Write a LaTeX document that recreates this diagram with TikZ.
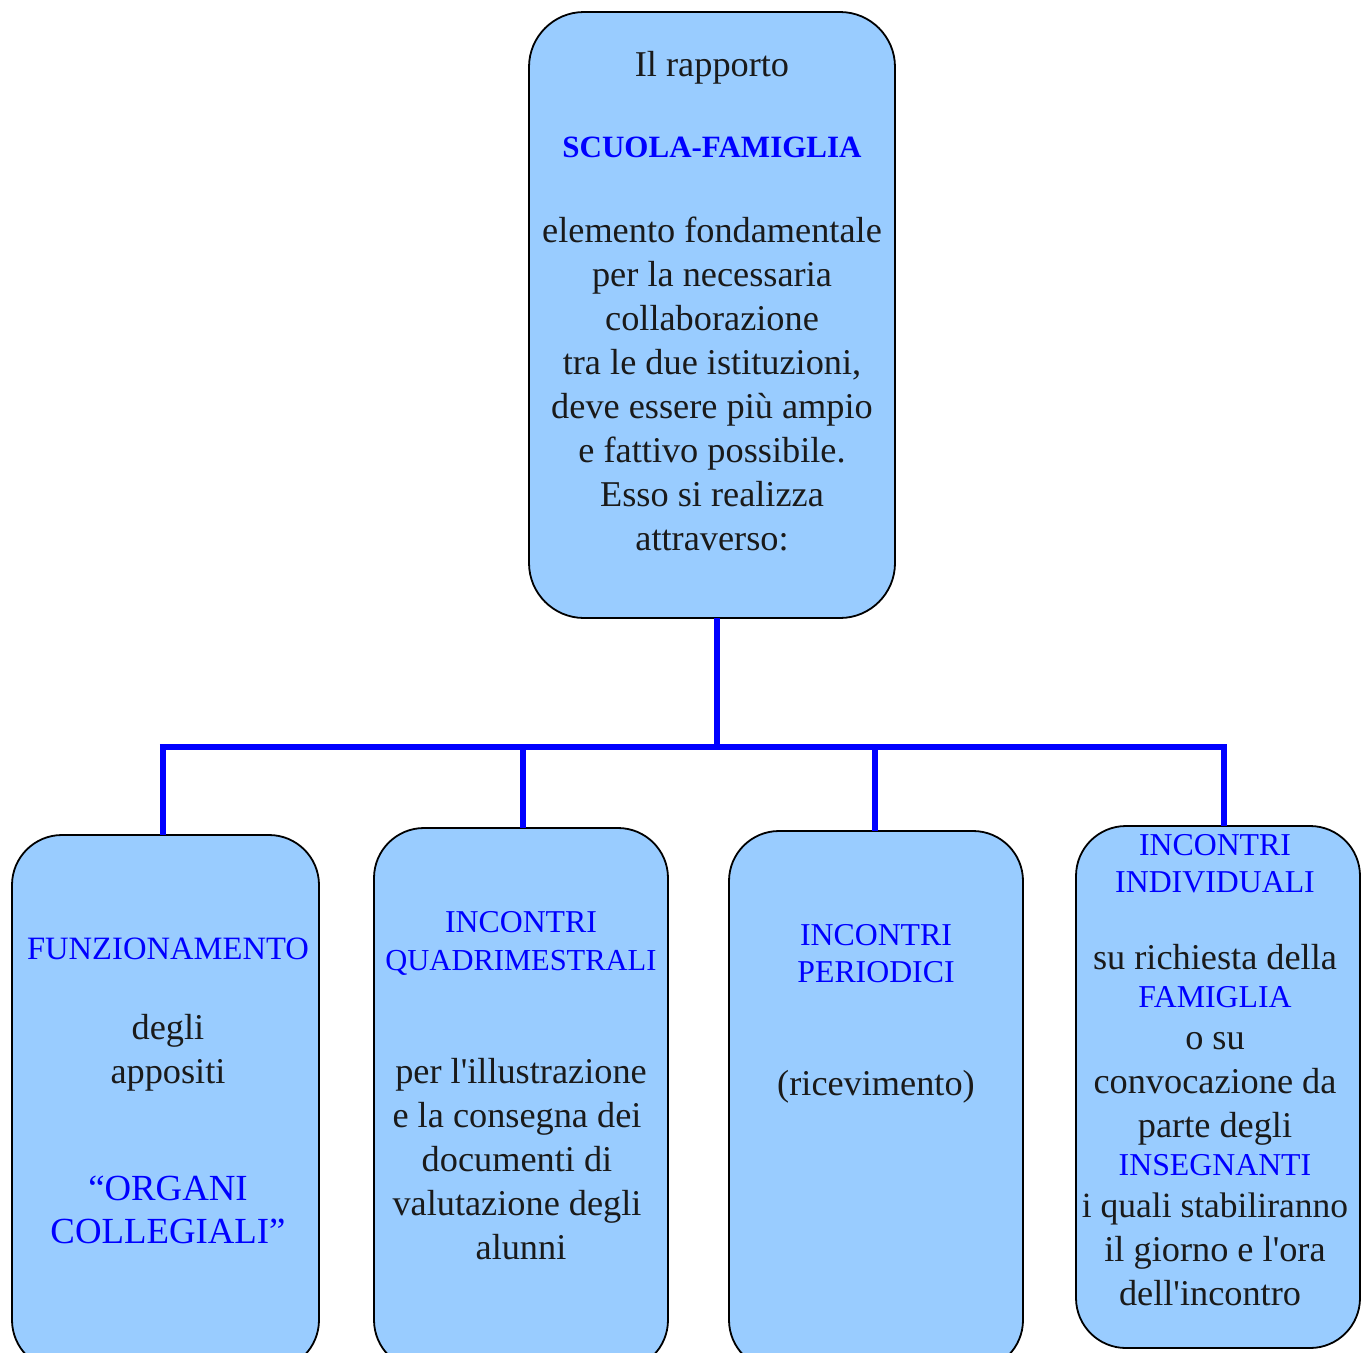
\documentclass[tikz,border=0pt]{standalone}
\usepackage{fontspec}
\setmainfont{Liberation Serif}
\definecolor{boxfill}{HTML}{99CCFF}
\definecolor{linkblue}{HTML}{0000FF}
\definecolor{txtblack}{HTML}{1A1A1A}
\tikzset{
  boxshape/.style={draw=black, line width=1.8pt, fill=boxfill, rounded corners=50pt, inner sep=0pt, outer sep=0pt},
  txt/.style={anchor=base, inner sep=0pt, text=txtblack, font=\fontsize{36.3}{44}\selectfont},
  hd/.style={anchor=base, inner sep=0pt, text=linkblue, font=\fontsize{31.8}{37}\selectfont},
  hdbig/.style={anchor=base, inner sep=0pt, text=linkblue, font=\fontsize{36.8}{44}\selectfont},
  link/.style={draw=linkblue, line width=6.5pt}
}
\begin{document}
\begin{tikzpicture}[x=1pt,y=-1pt]
\useasboundingbox (0,0) rectangle (1362,1352);
\clip (0,0) rectangle (1362,1352);
% boxes
\node[boxshape, rounded corners=55pt, minimum width=366pt, minimum height=606pt] (top) at (712,315) {};
\node[boxshape, minimum width=307pt, minimum height=535pt] (b1) at (165.5,1102.5) {};
\node[boxshape, minimum width=294pt, minimum height=542pt] (b2) at (521,1099) {};
\node[boxshape, minimum width=294pt, minimum height=539pt] (b3) at (876,1100.5) {};
\node[boxshape, minimum width=284pt, minimum height=522pt] (b4) at (1218,1087) {};
% connectors
\coordinate (j0) at (717,747);
\coordinate (j1) at (163,747);
\coordinate (j2) at (523,747);
\coordinate (j3) at (875,747);
\coordinate (j4) at (1224,747);
\draw[link] (j0 |- top.south) -- (j0);
\draw[link] ([xshift=-3.25pt]j1) -- ([xshift=3.25pt]j4);
\draw[link] (j1) -- (j1 |- b1.north);
\draw[link] (j2) -- (j2 |- b2.north);
\draw[link] (j3) -- (j3 |- b3.north);
\draw[link] (j4) -- (j4 |- b4.north);
% top text
\node[txt] (t1) at (712,76) {Il rapporto};
\node[anchor=base, inner sep=0pt, text=linkblue, font=\fontsize{31}{37}\selectfont\bfseries] (t2) at (712,157) {SCUOLA-FAMIGLIA};
\node[txt] (t3) at (712,242) {elemento fondamentale};
\node[txt] (t4) at (712,286) {per la necessaria};
\node[txt] (t5) at (712,330) {collaborazione};
\node[txt] (t6) at (712,374) {tra le due istituzioni,};
\node[txt] (t7) at (712,418) {deve essere più ampio};
\node[txt] (t8) at (712,462) {e fattivo possibile.};
\node[txt] (t9) at (712,506) {Esso si realizza};
\node[txt] (t10) at (712,550) {attraverso:};
% box 1
\node[hd, font=\fontsize{32.6}{37}\selectfont] (a1) at (168,959) {FUNZIONAMENTO};
\node[txt] (a2) at (168,1039) {degli};
\node[txt] (a3) at (168,1083) {appositi};
\node[hdbig] (a4) at (168,1200) {“ORGANI};
\node[hdbig] (a5) at (168,1243) {COLLEGIALI”};
% box 2
\node[hd] (c1) at (521,932) {INCONTRI};
\node[hd, font=\fontsize{30.5}{37}\selectfont] (c2) at (521,970) {QUADRIMESTRALI};
\node[txt] (c3) at (521,1083) {per l\textquotesingle illustrazione};
\node[txt] (c4) at (517,1127) {e la consegna dei};
\node[txt] (c5) at (517,1171) {documenti di};
\node[txt] (c6) at (517,1215) {valutazione degli};
\node[txt] (c7) at (521,1259) {alunni};
% box 3
\node[hd] (d1) at (876,945) {INCONTRI};
\node[hd] (d2) at (876,982) {PERIODICI};
\node[txt] (d3) at (876,1095) {(ricevimento)};
% box 4
\node[hd] (e1) at (1215,855) {INCONTRI};
\node[hd] (e2) at (1215,892) {INDIVIDUALI};
\node[txt] (e3) at (1215,969) {su richiesta della};
\node[hd] (e4) at (1215,1007) {FAMIGLIA};
\node[txt] (e5) at (1215,1049) {o su};
\node[txt] (e6) at (1215,1093) {convocazione da};
\node[txt] (e7) at (1215,1137) {parte degli};
\node[hd] (e8) at (1215,1175) {INSEGNANTI};
\node[txt, font=\fontsize{35.5}{44}\selectfont] (e9) at (1215,1217) {i quali stabiliranno};
\node[txt] (e10) at (1215,1261) {il giorno e l\textquotesingle ora};
\node[txt] (e11) at (1210,1305) {dell\textquotesingle incontro};
\end{tikzpicture}
\end{document}
